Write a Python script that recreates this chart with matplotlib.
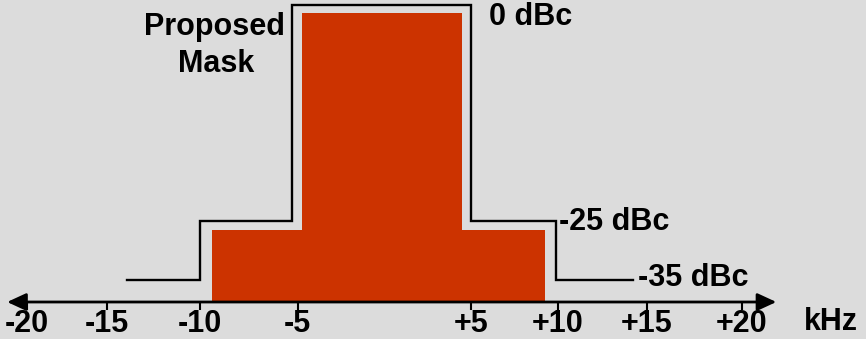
import numpy as np
import matplotlib.pyplot as plt
from matplotlib import transforms

# frequency offsets in kHz, levels in dBc
tick_khz = [-20, -15, -10, -5, 5, 10, 15, 20]
tick_labels = ['-20', '-15', '-10', '-5', '+5', '+10', '+15', '+20']

mask_khz = [-13.9, -10, -10, -5.3, -5.3, 5.0, 5.0, 9.9, 9.9, 14.2]
mask_dbc = [-35, -35, -25, -25, 0, 0, -25, -25, -35, -35]

# emission spectrum blocks: (left kHz, right kHz, top dBc)
spec_left = [-9.4, -4.75]
spec_right = [9.25, 4.48]
spec_top = [-26.6, -0.9]

axis_dbc = -38.6

# schematic drawing scales (not linear in the original slide)
x_anchor_khz = [-21.7, -20, -15, -10, -5, 5, 10, 15, 20, 26.5]
x_anchor_pos = [0, 27, 107, 200, 297.7, 471, 558, 647, 742, 866]
y_anchor_dbc = [-45.0, -38.6, -35, -25, 0, 0.6]
y_anchor_pos = [0, 37, 59.5, 118.5, 334, 339]

def fx(v):
    return np.interp(v, x_anchor_khz, x_anchor_pos)

def ix(v):
    return np.interp(v, x_anchor_pos, x_anchor_khz)

def fy(v):
    return np.interp(v, y_anchor_dbc, y_anchor_pos)

def iy(v):
    return np.interp(v, y_anchor_pos, y_anchor_dbc)

bg = '#dcdcdc'
red = '#cc3300'
font = dict(family='Liberation Sans', weight='bold', color='black')

fig = plt.figure(figsize=(8.66, 3.39), dpi=100, facecolor=bg)
ax = fig.add_axes([0, 0, 1, 1])
ax.set_facecolor(bg)
ax.set_xscale('function', functions=(fx, ix))
ax.set_yscale('function', functions=(fy, iy))
ax.set_xlim(x_anchor_khz[0], x_anchor_khz[-1])
ax.set_ylim(y_anchor_dbc[0], y_anchor_dbc[-1])
ax.axis('off')

# spectrum
for l, r, t in zip(spec_left, spec_right, spec_top):
    ax.bar(l, t - axis_dbc, width=r - l, bottom=axis_dbc, align='edge',
           color=red, linewidth=0, zorder=1)

# mask
ax.plot(mask_khz, mask_dbc, color='black', lw=1.7, zorder=2,
        solid_joinstyle='miter')

# frequency axis with arrows
ax.annotate('', xy=(21.8, axis_dbc), xytext=(-21.25, axis_dbc),
            arrowprops=dict(arrowstyle='<|-|>,head_length=11.5,head_width=5.3',
                            mutation_scale=1, color='black', lw=2.0,
                            shrinkA=0, shrinkB=0), zorder=3)
ax.plot(tick_khz, [axis_dbc] * len(tick_khz), linestyle='none', marker=3,
        markersize=6.0, markeredgewidth=1.5, color='black', zorder=3)

tr = transforms.blended_transform_factory(ax.transData, ax.transAxes)
for k, lab in zip(tick_khz, tick_labels):
    ax.text(k, 1 - 332 / 339, lab, transform=tr, ha='center', va='baseline',
            fontsize=22, **font)

def px(x, y):
    return x / 866, 1 - y / 339

ax.text(*px(804, 330), 'kHz', transform=ax.transAxes, ha='left',
        va='baseline', fontsize=22, **font)
ax.text(*px(489, 25), '0 dBc', transform=ax.transAxes, ha='left',
        va='baseline', fontsize=22, **font)
ax.text(*px(559, 230), '-25 dBc', transform=ax.transAxes, ha='left',
        va='baseline', fontsize=22, **font)
ax.text(*px(638, 286), '-35 dBc', transform=ax.transAxes, ha='left',
        va='baseline', fontsize=22, **font)
ax.text(*px(215, 35), 'Proposed', transform=ax.transAxes, ha='center',
        va='baseline', fontsize=22, **font)
ax.text(*px(216, 72), 'Mask', transform=ax.transAxes, ha='center',
        va='baseline', fontsize=22, **font)

fig.savefig('out.png', dpi=100, facecolor=bg)
